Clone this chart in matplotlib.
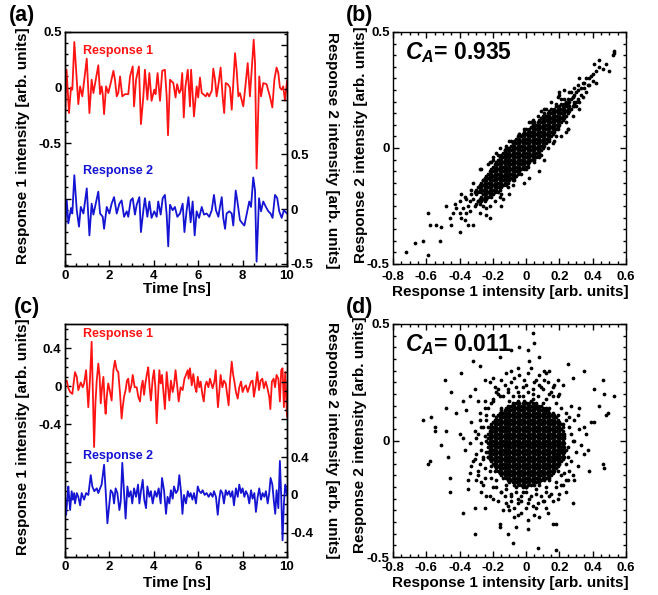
import numpy as np
import matplotlib
matplotlib.use('Agg')
import matplotlib.pyplot as plt
from matplotlib.ticker import FixedLocator, MultipleLocator, FuncFormatter

plt.rcParams['font.family'] = ['Liberation Sans', 'DejaVu Sans']
plt.rcParams['font.weight'] = 'bold'
plt.rcParams['axes.labelweight'] = 'bold'
plt.rcParams['axes.unicode_minus'] = False
plt.rcParams['axes.linewidth'] = 1.0
plt.rcParams['mathtext.fontset'] = 'custom'
plt.rcParams['mathtext.it'] = 'Liberation Sans:italic:bold'
plt.rcParams['mathtext.rm'] = 'Liberation Sans:bold'

RED = '#ff1414'
BLUE = '#1414d2'

# ---- (a) time traces, correlated case ----
a_t1 = [0.00,0.07,0.18,0.27,0.33,0.42,0.60,0.68,0.78,0.98,1.10,1.20,1.28,1.50,1.58,1.65,1.70,1.76,1.85,1.95,
        2.06,2.18,2.25,2.33,2.40,2.48,2.58,2.70,2.85,2.93,3.05,3.11,3.20,3.33,3.42,3.53,3.60,3.71,3.80,3.90,
        4.02,4.08,4.17,4.28,4.38,4.50,4.58,4.64,4.73,4.88,4.98,5.05,5.15,5.22,5.28,5.35,5.42,5.53,5.63,5.68,
        5.81,5.93,6.00,6.08,6.16,6.23,6.34,6.41,6.49,6.61,6.68,6.76,6.83,6.92,7.01,7.10,7.17,7.24,7.33,7.43,
        7.51,7.66,7.73,7.81,7.88,8.03,8.11,8.23,8.33,8.50,8.56,8.63,8.75,8.83,8.93,9.08,9.16,9.23,9.34,9.43,
        9.53,9.61,9.68,9.76,9.83,9.91,10.0]
a_v1 = [-0.29,0.16,-0.23,0.00,-0.02,0.41,-0.15,0.01,-0.08,0.26,-0.23,0.07,-0.05,0.20,-0.06,0.01,-0.06,-0.24,0.01,-0.05,
        0.04,0.15,0.07,-0.08,-0.05,0.10,-0.08,-0.06,-0.06,0.10,0.19,-0.17,0.07,0.19,-0.33,-0.08,0.16,-0.11,0.13,-0.12,
        -0.02,-0.06,0.13,-0.12,0.15,0.16,-0.08,-0.43,0.07,0.04,-0.09,0.03,-0.05,-0.02,0.13,-0.27,0.00,0.16,-0.17,0.16,
        -0.26,0.01,-0.09,0.09,-0.05,-0.06,-0.08,-0.05,-0.08,-0.03,0.17,0.07,-0.08,0.04,0.18,-0.08,-0.23,0.04,0.03,0.00,
        -0.20,0.31,0.16,-0.08,-0.05,-0.17,-0.02,0.22,-0.08,0.43,0.22,-0.73,0.10,-0.08,0.04,0.03,-0.03,-0.08,-0.18,0.07,
        0.18,0.13,0.00,-0.02,0.01,-0.12,0.06]
a_t2 = [0.00,0.08,0.15,0.27,0.33,0.42,0.53,0.63,0.71,0.83,0.98,1.10,1.20,1.28,1.50,1.58,1.70,1.76,1.88,2.00,
        2.10,2.21,2.33,2.45,2.55,2.66,2.78,2.85,2.96,3.05,3.15,3.23,3.35,3.42,3.53,3.60,3.71,3.80,3.90,4.02,
        4.13,4.20,4.31,4.40,4.50,4.58,4.65,4.73,4.85,4.95,5.06,5.18,5.30,5.38,5.48,5.56,5.66,5.75,5.84,5.93,
        6.04,6.16,6.26,6.38,6.50,6.61,6.71,6.80,6.91,6.98,7.06,7.13,7.21,7.28,7.40,7.51,7.58,7.69,7.76,7.88,
        7.99,8.08,8.18,8.30,8.38,8.48,8.56,8.63,8.74,8.83,8.93,9.05,9.16,9.26,9.35,9.46,9.56,9.65,9.76,9.86,10.0]
a_v2 = [-0.18,0.08,-0.13,0.01,-0.04,0.31,-0.01,-0.16,0.02,-0.04,0.19,-0.24,0.05,-0.05,0.16,-0.04,-0.07,-0.18,0.02,-0.04,
        0.05,0.11,-0.04,0.05,0.08,-0.07,-0.02,-0.07,0.08,0.10,-0.05,0.04,0.11,-0.21,-0.01,0.10,-0.07,0.07,-0.08,-0.02,
        -0.07,0.07,-0.05,0.10,0.13,-0.05,-0.34,0.04,-0.01,0.02,-0.07,-0.04,0.05,-0.21,-0.01,0.11,-0.12,0.07,-0.24,-0.02,
        -0.08,0.02,-0.05,-0.04,-0.07,-0.01,0.13,-0.01,-0.07,0.02,0.11,-0.08,-0.18,-0.04,-0.02,-0.04,-0.15,0.17,0.08,-0.10,
        -0.13,-0.15,-0.05,0.07,0.02,0.29,0.17,-0.48,0.10,-0.02,0.07,0.02,-0.02,-0.04,-0.08,0.13,0.10,-0.02,-0.08,-0.01,-0.04]

# ---- (c) time traces, uncorrelated case ----
c_t1 = [0.00,0.08,0.15,0.23,0.33,0.45,0.53,0.60,0.71,0.80,0.86,0.95,1.05,1.13,1.20,1.25,1.31,1.37,1.43,1.50,
        1.56,1.61,1.67,1.73,1.79,1.83,1.89,1.95,2.03,2.10,2.18,2.25,2.33,2.40,2.48,2.55,2.60,2.66,2.73,2.79,
        2.85,2.91,2.99,3.05,3.14,3.23,3.30,3.38,3.44,3.50,3.56,3.62,3.69,3.75,3.81,3.87,3.95,4.01,4.07,4.13,
        4.19,4.25,4.31,4.37,4.43,4.50,4.58,4.64,4.70,4.77,4.85,4.91,4.98,5.06,5.12,5.21,5.30,5.38,5.45,5.53,
        5.57,5.63,5.71,5.78,5.86,5.92,5.98,6.05,6.11,6.19,6.25,6.32,6.38,6.46,6.53,6.59,6.65,6.73,6.79,6.83,
        6.89,6.95,7.01,7.09,7.16,7.24,7.31,7.37,7.43,7.51,7.57,7.63,7.70,7.78,7.85,7.93,8.00,8.08,8.15,8.23,
        8.30,8.38,8.45,8.51,8.59,8.66,8.74,8.81,8.89,8.96,9.04,9.11,9.20,9.25,9.32,9.40,9.46,9.53,9.61,9.68,
        9.74,9.80,9.86,9.92,10.0]
c_v1 = [0.05,0.06,-0.02,-0.06,-0.08,0.15,0.10,-0.04,0.04,-0.01,0.03,0.17,-0.22,0.10,0.47,-0.01,-0.64,-0.18,0.06,0.24,
        0.10,-0.18,-0.01,0.10,-0.18,-0.29,-0.09,0.03,-0.06,-0.15,0.17,0.27,0.17,0.15,-0.08,-0.34,-0.22,-0.11,-0.04,0.06,
        0.08,-0.06,0.01,0.12,-0.01,-0.01,-0.11,-0.16,-0.01,0.06,-0.09,0.03,0.13,0.20,-0.01,-0.15,0.08,0.17,-0.01,-0.39,
        -0.11,0.17,0.03,0.12,-0.04,-0.24,0.15,-0.01,-0.15,0.06,-0.06,0.01,0.17,-0.01,-0.16,-0.01,-0.04,0.08,0.12,0.17,
        0.08,0.19,0.01,0.13,-0.01,-0.06,0.10,-0.01,0.05,-0.09,-0.16,0.01,0.05,-0.01,0.08,0.03,-0.02,0.05,0.17,-0.01,
        -0.22,-0.06,0.12,-0.01,0.06,0.03,-0.09,-0.20,0.05,0.26,0.13,0.05,-0.06,-0.13,-0.01,0.05,-0.06,-0.01,0.01,-0.06,
        -0.01,0.05,0.06,-0.11,0.01,0.15,-0.04,0.06,0.08,-0.02,0.05,-0.01,-0.11,-0.24,0.05,0.08,-0.01,0.12,0.08,-0.16,
        0.17,0.19,-0.22,0.15,-0.32]
c_t2 = [0.00,0.05,0.11,0.15,0.23,0.30,0.35,0.41,0.45,0.53,0.60,0.68,0.75,0.86,0.95,1.05,1.16,1.23,1.32,1.43,
        1.50,1.58,1.65,1.76,1.83,1.91,2.00,2.06,2.15,2.21,2.28,2.36,2.45,2.51,2.58,2.66,2.73,2.81,2.88,2.96,
        3.03,3.11,3.20,3.29,3.35,3.42,3.50,3.57,3.65,3.71,3.80,3.87,3.95,4.05,4.13,4.22,4.31,4.37,4.46,4.55,
        4.62,4.70,4.77,4.85,4.91,5.00,5.08,5.15,5.23,5.29,5.36,5.45,5.53,5.60,5.66,5.74,5.81,5.90,5.98,6.05,
        6.13,6.20,6.29,6.38,6.47,6.56,6.65,6.71,6.80,6.88,6.95,7.01,7.09,7.16,7.24,7.31,7.39,7.46,7.54,7.61,
        7.70,7.78,7.85,7.93,8.00,8.08,8.15,8.23,8.30,8.38,8.45,8.53,8.60,8.68,8.75,8.83,8.90,8.98,9.05,9.13,
        9.20,9.26,9.34,9.41,9.47,9.53,9.61,9.68,9.74,9.80,9.86,9.92,10.0]
c_v2 = [0.00,-0.21,-0.02,0.09,-0.16,0.04,-0.05,0.02,-0.09,0.02,-0.02,-0.11,0.02,-0.05,0.02,0.00,0.21,0.09,0.04,0.07,
        0.02,0.07,0.11,0.32,0.05,-0.30,-0.09,0.05,0.02,-0.09,0.07,0.02,-0.16,-0.07,0.34,0.02,-0.25,0.09,-0.02,0.04,
        -0.09,0.07,-0.02,0.11,-0.09,0.04,0.16,-0.05,-0.14,0.09,-0.02,0.04,-0.09,0.04,-0.02,0.07,-0.09,0.18,0.05,-0.20,
        -0.02,-0.09,0.05,-0.04,0.09,0.02,0.05,0.21,0.02,-0.20,0.00,-0.09,0.04,-0.02,0.02,-0.05,0.02,-0.09,0.09,0.04,
        0.02,0.05,0.00,0.02,-0.02,0.02,-0.02,0.04,-0.02,-0.21,-0.04,0.05,0.02,-0.09,0.05,0.00,0.04,-0.02,0.04,-0.11,
        0.07,-0.02,0.11,0.02,0.07,-0.02,0.04,0.00,-0.09,0.05,-0.04,0.02,-0.18,-0.02,0.07,-0.05,0.02,-0.02,0.04,-0.09,
        0.02,0.18,0.11,-0.07,-0.20,0.05,-0.14,0.36,-0.02,-0.48,-0.09,0.11,0.00]

# ---- (b) scatter, values in units of 0.01 ----
# dense band: one column per response-1 value, listing response-2 values
b_col_x = [-30,-29,-28,-27,-26,-25,-24,-23,-22,-21,-20,-19,-18,-17,-16,-15,-14,-13,-12,-11,-10,-9,-8,-7,-6,-5,-4,-3,-2,-1,
           0,1,2,3,4,5,6,7,8,9,10,11,12,13,14,15,16,17,18,19,20,21,22,23,24,25,26,27,28,29,30]
b_col_y = [[-24,-20,-18],[-23,-19,-17],[-24,-22,-18,-16],[-23,-21,-19,-17,-15],[-22,-20,-18,-16,-14],
           [-23,-21,-19,-17,-15,-13],[-22,-20,-18,-16,-14,-12],[-21,-19,-17,-15,-13,-11],[-20,-18,-16,-14,-12,-10],
           [-21,-19,-17,-15,-13,-11,-9],[-20,-18,-16,-14,-12,-10,-8],[-19,-17,-15,-13,-11,-9,-7],
           [-18,-16,-14,-12,-10,-8,-6],[-19,-17,-15,-13,-11,-9,-7,-5],[-18,-16,-14,-12,-10,-8,-6,-4],
           [-17,-15,-13,-11,-9,-7,-5,-3],[-16,-14,-12,-10,-8,-6,-4],[-15,-13,-11,-9,-7,-5,-3,-1],
           [-16,-14,-12,-10,-8,-6,-4,-2,0],[-15,-13,-11,-9,-7,-5,-3,-1],[-14,-12,-10,-8,-6,-4,-2,0],
           [-13,-11,-9,-7,-5,-3,-1,1],[-14,-12,-10,-8,-6,-4,-2,0,2],[-13,-11,-9,-7,-5,-3,-1,1,3],
           [-12,-10,-8,-6,-4,-2,0,2,4],[-11,-9,-7,-5,-3,-1,1,3],[-10,-8,-6,-4,-2,0,2,4,6],[-9,-7,-5,-3,-1,1,3,5],
           [-8,-6,-4,-2,0,2,4,6],[-9,-7,-5,-3,-1,1,3,5,7],[-8,-6,-4,-2,0,2,4,6,8],[-7,-5,-3,-1,1,3,5,7],
           [-6,-4,-2,0,2,4,6,8],[-5,-3,-1,1,3,5,7,9],[-4,-2,0,2,4,6,8,10],[-5,-3,-1,1,3,5,7,9,11],
           [-4,-2,0,2,4,6,8,10],[-3,-1,1,3,5,7,9,11],[-2,0,2,4,6,8,10,12],[-1,1,3,5,7,9,11,13],
           [0,2,4,6,8,10,12,14],[1,3,5,7,9,11,13,15],[2,4,6,8,10,12,14],[3,5,7,9,11,13,15],[4,6,8,10,12,14,16],
           [5,7,9,11,13,15],[6,8,10,12,14,16],[7,9,11,13,15,17],[8,10,12,14,16,18],[9,11,13,15,17],
           [10,12,14,16,18],[11,13,15,17,19],[12,14,16,18],[13,15,17,19,21],[14,16,18,20],[15,17,19,21],
           [16,18,20],[17,21],[18,22],[19,23],[20,24]]
b_halo_x = [53,52,53,48,50,46,44,41,40,42,38,35,32,33,36,29,26,31,34,20,24,29,32,18,21,28,24,25,2,6,
            12,9,15,18,14,19,8,2,-1,11,-16,-14,-10,-22,-23,-20,-28,-26,-32,-33,-30,-37,-34,-39,-40,-48,-43,-42,-44,-46,
            -39,-37,-35,-32,-40,-45,-51,-54,-58,-59,-52,-62,-67,-72,-59,-26,-24,-22,-15,-10,-14,-28,-31,-32,-33,-35,-36,-38,-31,-34,
            -29,-36,-40,31,33,35,30,32,34,37,36,39,38,40,42,44,31,28,27,29,
            -27,-24,-21,-19,-17,-15,-13,-11,-9,-7,-5,-3,-1,1,3,5,7,9,11,13,
            15,17,19,21,23,25,-20,-16,-12,-8,-4,0,4,8,12,16,20,24,-22,-18]
b_halo_y = [41,40,42,36,33,34,38,36,29,28,30,28,30,26,24,26,24,21,22,23,19,18,17,19,21,14,11,8,11,8,
            14,16,17,5,3,8,-10,-13,-15,-5,0,-2,3,-6,-7,-5,-9,-14,-15,-18,-19,-21,-23,-20,-23,-25,-24,-26,-28,-30,
            -30,-31,-33,-33,-36,-33,-34,-33,-33,-28,-40,-40,-41,-45,-46,-25,-29,-30,-25,-20,-22,-28,-25,-22,-20,-25,-22,-26,-19,-27,
            -23,-28,-28,25,23,26,18,20,28,27,30,31,27,32,33,35,27,22,24,20,
            -9,-26,-6,-23,-3,-20,-1,-17,3,-14,5,-11,8,-8,11,-6,14,-3,17,0,
            20,3,22,5,25,8,-4,-21,1,-16,6,-9,12,-4,17,2,24,7,-25,-2]

# ---- (d) scatter, values in units of 0.01 ----
d_col_x = [-23,-22,-21,-20,-19,-18,-17,-16,-15,-14,-13,-12,-11,-10,-9,-8,-7,-6,-5,-4,-3,-2,-1,
           0,1,2,3,4,5,6,7,8,9,10,11,12,13,14,15,16,17,18,19,20,21,22,23]
d_col_y = [[-7,-5,-3,-1,1,3],
           [-8,-6,-4,-2,0,2,4,6],
           [-11,-9,-7,-5,-3,-1,1,3,5,7],
           [-10,-8,-6,-4,-2,0,2,4,6,8],
           [-13,-11,-9,-7,-5,-3,-1,1,3,5,7,9],
           [-12,-10,-8,-6,-4,-2,0,2,4,6,8,10],
           [-13,-11,-9,-7,-5,-3,-1,1,3,5,7,9,11],
           [-14,-12,-10,-8,-6,-4,-2,0,2,4,6,8,10,12],
           [-15,-13,-11,-9,-7,-5,-3,-1,1,3,5,7,9,11,13],
           [-16,-14,-12,-10,-8,-6,-4,-2,0,2,4,6,8,10,12],
           [-15,-13,-11,-9,-7,-5,-3,-1,1,3,5,7,9,11,13],
           [-16,-14,-12,-10,-8,-6,-4,-2,0,2,4,6,8,10,12,14],
           [-17,-15,-13,-11,-9,-7,-5,-3,-1,1,3,5,7,9,11,13,15],
           [-18,-16,-14,-12,-10,-8,-6,-4,-2,0,2,4,6,8,10,12,14],
           [-17,-15,-13,-11,-9,-7,-5,-3,-1,1,3,5,7,9,11,13,15],
           [-18,-16,-14,-12,-10,-8,-6,-4,-2,0,2,4,6,8,10,12,14,16],
           [-19,-17,-15,-13,-11,-9,-7,-5,-3,-1,1,3,5,7,9,11,13,15],
           [-18,-16,-14,-12,-10,-8,-6,-4,-2,0,2,4,6,8,10,12,14,16],
           [-19,-17,-15,-13,-11,-9,-7,-5,-3,-1,1,3,5,7,9,11,13,15,17],
           [-18,-16,-14,-12,-10,-8,-6,-4,-2,0,2,4,6,8,10,12,14,16],
           [-19,-17,-15,-13,-11,-9,-7,-5,-3,-1,1,3,5,7,9,11,13,15],
           [-20,-18,-16,-14,-12,-10,-8,-6,-4,-2,0,2,4,6,8,10,12,14,16],
           [-19,-17,-15,-13,-11,-9,-7,-5,-3,-1,1,3,5,7,9,11,13,15,17],
           [-20,-18,-16,-14,-12,-10,-8,-6,-4,-2,0,2,4,6,8,10,12,14,16],
           [-19,-17,-15,-13,-11,-9,-7,-5,-3,-1,1,3,5,7,9,11,13,15],
           [-18,-16,-14,-12,-10,-8,-6,-4,-2,0,2,4,6,8,10,12,14,16],
           [-19,-17,-15,-13,-11,-9,-7,-5,-3,-1,1,3,5,7,9,11,13,15,17],
           [-18,-16,-14,-12,-10,-8,-6,-4,-2,0,2,4,6,8,10,12,14,16],
           [-19,-17,-15,-13,-11,-9,-7,-5,-3,-1,1,3,5,7,9,11,13,15],
           [-18,-16,-14,-12,-10,-8,-6,-4,-2,0,2,4,6,8,10,12,14,16],
           [-17,-15,-13,-11,-9,-7,-5,-3,-1,1,3,5,7,9,11,13,15],
           [-18,-16,-14,-12,-10,-8,-6,-4,-2,0,2,4,6,8,10,12,14],
           [-17,-15,-13,-11,-9,-7,-5,-3,-1,1,3,5,7,9,11,13,15],
           [-16,-14,-12,-10,-8,-6,-4,-2,0,2,4,6,8,10,12,14],
           [-17,-15,-13,-11,-9,-7,-5,-3,-1,1,3,5,7,9,11,13],
           [-16,-14,-12,-10,-8,-6,-4,-2,0,2,4,6,8,10,12,14],
           [-15,-13,-11,-9,-7,-5,-3,-1,1,3,5,7,9,11,13],
           [-16,-14,-12,-10,-8,-6,-4,-2,0,2,4,6,8,10,12],
           [-15,-13,-11,-9,-7,-5,-3,-1,1,3,5,7,9,11],
           [-14,-12,-10,-8,-6,-4,-2,0,2,4,6,8,10,12],
           [-13,-11,-9,-7,-5,-3,-1,1,3,5,7,9,11],
           [-12,-10,-8,-6,-4,-2,0,2,4,6,8,10],
           [-13,-11,-9,-7,-5,-3,-1,1,3,5,7,9],
           [-10,-8,-6,-4,-2,0,2,4,6,8],
           [-9,-7,-5,-3,-1,1,3,5,7],
           [-8,-6,-4,-2,0,2,4,6],
           [-7,-5,-3,-1,1,3]]
d_halo_x = [4,5,1,-4,-9,-16,8,2,-32,-28,-39,-49,-45,-48,-57,-62,-55,-55,-48,-51,
            -59,-58,-47,-46,-46,-38,-31,-25,-31,-16,-16,-11,-8,-6,-5,1,1,7,16,18,
            18,28,29,28,38,37,35,46,47,29,36,35,39,41,44,49,48,47,53,41,
            46,35,28,25,22,32,31,24,21,16,14,12,11,19,-9,-12,-20,-22,-25,-31,
            -34,-38,-42,-36,-40,-38,-34,-37,-33,-34,-30,-35,-27,-24,-20,-12,-10,-7,-3,4,
            10,14,20,24,22,26,25,24,27,22,19,8,4,-1,-6,-11,-16,-20,-25,-28,
            -29,-27,-28,-25,-20,-15,-9,-2,6,12,18,21,20,21,19,14,10,4,-4,-10,
            -15,-20,-23,-24,-23,-22,-18,-12,-6,0,8,14,16,18,17,16,12,6,0,-8,
            -14,-18,-20,-20,-19,-16,-5,2,7,-9,12,-13,16,0,-3,5,-2,6,1,-7,
            10,13,-13,-17,16,-5,3,14,-26,-29,-31,-26,-30,-27,-24,-21,-18,
            -20,-17,-14,-11,-8,-5,-2,1,4,7,9,12,15,18,-19,-9,0,5,11,-15,-4,8,17,20,
            -21,-18,-15,-12,-9,-6,-3,0,3,6,9,12,15,18,21,-17,-11,-5,1,6,11,19,24,-22,-7,8,13,-14,
            -25,-26,-24,-27,-25,-26,-24,-28,-23,-30,-31,-29,-33,-32,-27,-25,-29,-35,
            24,25,23,26,24,23,27,28,26,29,30,31,27,25,33,32]
d_halo_y = [46,42,39,40,39,36,36,34,34,32,29,26,21,14,10,9,6,4,4,-2,
            -10,-9,-7,-16,-22,-31,-29,-29,-40,-36,-37,-40,-44,-37,-32,-34,-38,-46,-36,-36,
            -47,-27,-17,-15,-13,-4,-6,-10,-12,0,3,6,8,8,15,12,11,20,19,22,
            26,30,27,33,24,14,11,9,14,23,20,29,30,26,30,29,27,25,26,22,
            19,17,12,13,3,1,-1,-4,-11,-14,-17,-21,-22,-24,-25,-27,-30,-29,-26,-28,
            -26,-24,-23,-22,-19,-13,-7,-4,3,7,19,24,22,26,23,21,19,17,14,9,
            3,-4,-10,-16,-20,-22,-23,-22,-23,-22,-20,-15,-10,-4,11,14,16,18,19,17,
            14,11,6,0,-7,-13,-17,-19,-20,-20,-19,-17,-13,-7,4,8,13,15,16,15,
            12,9,4,-4,-10,-14,-25,-25,-27,-26,-29,-24,-26,-29,-31,-32,23,26,29,27,
            22,25,24,22,19,31,31,30,-19,-13,-8,-7,1,6,11,16,21,
            18,20,19,22,19,21,19,21,20,19,23,18,21,16,23,25,24,25,26,26,28,28,24,20,
            -16,-20,-22,-21,-24,-22,-24,-22,-24,-21,-24,-20,-23,-18,-19,-26,-28,-27,-27,-29,-26,-25,-17,-24,-33,-33,-31,-30,
            -12,-8,-5,-1,2,6,9,12,14,-6,4,-15,8,-9,-18,17,17,-17,
            -10,-3,2,6,12,-14,-9,0,10,9,-5,-11,15,-17,-2,5]

YLABEL1 = 'Response 1 intensity [arb. units]'
YLABEL2 = 'Response 2 intensity [arb. units]'

W, H = 658, 595
fig = plt.figure(figsize=(W / 100, H / 100), dpi=100)


def label(x, y, s, rot=0, size=11):
    # place a text by its centre, given in pixels from the top-left corner
    fig.text(x / W, 1 - y / H, s, fontsize=size, rotation=rot, ha='center', va='center')


def shown_only(values):
    def fmt(v, pos):
        for s in values:
            if abs(v - s) < 1e-6:
                return '0' if abs(s) < 1e-9 else '%g' % s
        return ''
    return FuncFormatter(fmt)


def set_ticks(ax, **kw):
    ax.tick_params(which='both', direction='in', labelsize=9.5, width=1.0, pad=2.5, **kw)
    ax.tick_params(which='major', length=4)
    ax.tick_params(which='minor', length=2)


def time_panel(rect, t1, v1, t2, v2, lim1, lim2, major1, major2, shown, r1_y, r2_y):
    ax = fig.add_axes(rect)
    ax.plot(t1, v1, color=RED, lw=1.3)
    ax.set_xlim(0, 10)
    ax.set_ylim(*lim1)
    ax.xaxis.set_major_locator(MultipleLocator(2))
    ax.xaxis.set_minor_locator(MultipleLocator(0.5))
    ax.yaxis.set_major_locator(FixedLocator(major1))
    ax.yaxis.set_minor_locator(MultipleLocator(0.1))
    ax.yaxis.set_major_formatter(shown_only(shown))
    set_ticks(ax)
    ax.tick_params(axis='x', pad=3.0)
    ax.text(0.08, r1_y, 'Response 1', color=RED, fontsize=9, transform=ax.transAxes, va='baseline')

    ax2 = ax.twinx()
    ax2.plot(t2, v2, color=BLUE, lw=1.3)
    ax2.set_ylim(*lim2)
    ax2.yaxis.set_major_locator(FixedLocator(major2))
    ax2.yaxis.set_minor_locator(MultipleLocator(0.1))
    ax2.yaxis.set_major_formatter(shown_only(shown))
    set_ticks(ax2)
    ax.text(0.08, r2_y, 'Response 2', color=BLUE, fontsize=9, transform=ax.transAxes, va='baseline')
    return ax


def scatter_panel(rect, col_x, col_y, halo_x, halo_y, ca, xpad):
    ax = fig.add_axes(rect)
    px = [x for x, ys in zip(col_x, col_y) for _ in ys] + halo_x
    py = [y for ys in col_y for y in ys] + halo_y
    ax.plot(np.array(px) / 100, np.array(py) / 100, 'o', color='k', ms=2.7, mew=0)
    ax.set_xlim(-0.8, 0.6)
    ax.set_ylim(-0.5, 0.5)
    ax.xaxis.set_major_locator(MultipleLocator(0.2))
    ax.xaxis.set_minor_locator(MultipleLocator(0.05))
    ax.yaxis.set_major_locator(MultipleLocator(0.5))
    ax.yaxis.set_minor_locator(MultipleLocator(0.05))
    ax.xaxis.set_major_formatter(shown_only([-0.8, -0.6, -0.4, -0.2, 0, 0.2, 0.4, 0.6]))
    ax.yaxis.set_major_formatter(shown_only([-0.5, 0, 0.5]))
    set_ticks(ax, top=True, right=True)
    ax.tick_params(axis='x', pad=xpad)
    ax.text(0.05, 0.885, r'$C_A$= ' + ca, transform=ax.transAxes, fontsize=16.5,
            ha='left', va='baseline')
    return ax


time_panel([65 / W, 1 - 266 / H, 222 / W, 234 / H], a_t1, a_v1, a_t2, a_v2,
           (-1.608, 0.5), (-0.52, 1.62), [-1.5, -1.0, -0.5, 0, 0.5], [-0.5, 0, 0.5, 1.0, 1.5],
           [-0.5, 0, 0.5], 0.906, 0.393)
time_panel([65 / W, 1 - 557 / H, 222 / W, 233 / H], c_t1, c_v1, c_t2, c_v2,
           (-1.80, 0.657), (-0.657, 1.81), [-1.6, -1.2, -0.8, -0.4, 0, 0.4], [-0.4, 0, 0.4, 0.8, 1.2, 1.6],
           [-0.4, 0, 0.4], 0.943, 0.419)
scatter_panel([393 / W, 1 - 264 / H, 233 / W, 232 / H], b_col_x, b_col_y, b_halo_x, b_halo_y, '0.935', 5.0)
scatter_panel([393 / W, 1 - 557 / H, 233 / W, 233 / H], d_col_x, d_col_y, d_halo_x, d_halo_y, '0.011', 3.5)

# axis titles
label(23, 146, YLABEL1, 90)
label(332, 150, YLABEL2, 270)
label(177, 289, 'Time [ns]')
label(361, 145, YLABEL2, 90)
label(510, 292, YLABEL1)
label(23, 437, YLABEL1, 90)
label(332, 440, YLABEL2, 270)
label(177, 583, 'Time [ns]')
label(360, 435, YLABEL2, 90)
label(510, 583, YLABEL1)

for letter, x, y in [('(a)', 22, 15), ('(b)', 360, 16), ('(c)', 27, 307), ('(d)', 360, 307)]:
    label(x, y, letter, size=15.5)

fig.savefig('out.png', dpi=100)
